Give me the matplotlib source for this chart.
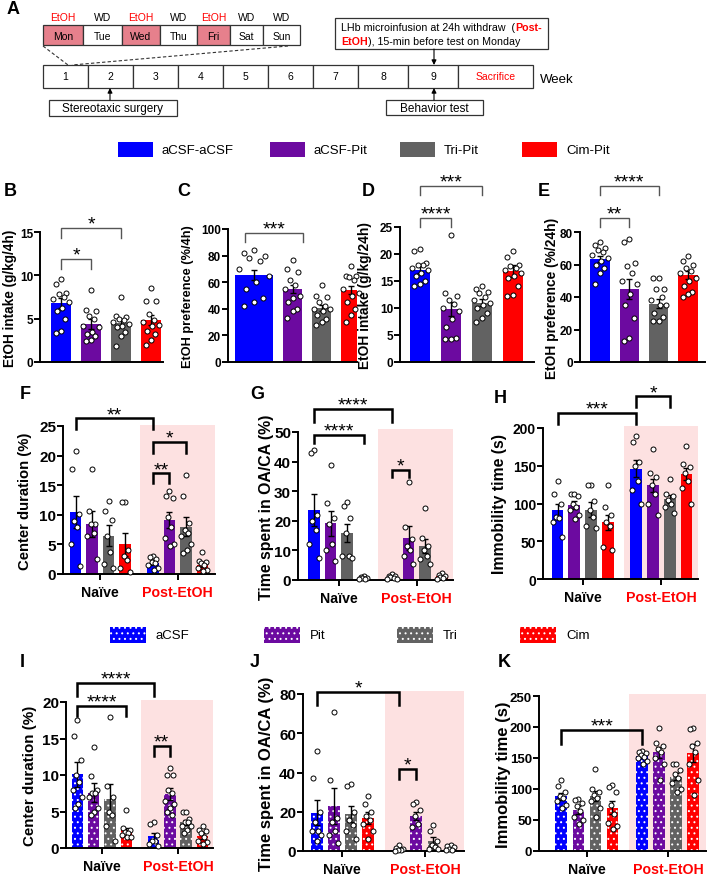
import matplotlib
matplotlib.use("Agg")
import matplotlib.pyplot as plt
from matplotlib.patches import Rectangle
import numpy as np

plt.rcParams['font.family'] = ['Liberation Sans', 'DejaVu Sans']
plt.rcParams['hatch.color'] = 'white'
plt.rcParams['hatch.linewidth'] = 0.7

W, H = 709, 878
fig = plt.figure(figsize=(W / 100, H / 100), dpi=100)

BLUE, PURPLE, GRAY, RED = '#0000ff', '#6c0aa0', '#626262', '#ff0000'
PINK = '#fde1e1'
DAYPINK = '#e6808c'
colors = [BLUE, PURPLE, GRAY, RED]

# ---------------- data ----------------
days = ['Mon', 'Tue', 'Wed', 'Thu', 'Fri', 'Sat', 'Sun']
day_tags = ['EtOH', 'WD', 'EtOH', 'WD', 'EtOH', 'WD', 'WD']
weeks = ['1', '2', '3', '4', '5', '6', '7', '8', '9', 'Sacrifice']
legend1 = ['aCSF-aCSF', 'aCSF-Pit', 'Tri-Pit', 'Cim-Pit']
legend2 = ['aCSF', 'Pit', 'Tri', 'Cim']
group_labels = ['Naïve', 'Post-EtOH']

B_mean = [6.8, 4.4, 4.45, 4.85]
B_sem = [0.6, 0.55, 0.4, 0.6]
B_pts = [[9.6, 9.0, 8.0, 7.8, 7.5, 7.3, 6.9, 6.2, 5.9, 5.0, 3.6, 3.3],
         [8.3, 6.0, 5.9, 5.3, 5.0, 4.2, 4.0, 3.5, 3.2, 3.0, 2.5, 2.4],
         [7.5, 5.3, 5.2, 5.0, 4.8, 4.6, 4.4, 4.2, 4.0, 3.5, 3.0, 1.8],
         [8.5, 7.0, 7.0, 5.5, 4.8, 4.6, 4.3, 4.2, 3.6, 3.2, 2.5, 2.0]]

C_mean = [65.5, 55.0, 40.5, 54.0]
C_sem = [4.0, 3.0, 2.5, 3.0]
C_pts = [[84, 82, 80, 78, 76, 70, 65, 60, 55, 48, 45, 42],
         [77, 70, 68, 62, 58, 55, 50, 48, 45, 40, 38, 33],
         [58, 50, 49, 45, 42, 40, 40, 38, 35, 32, 30, 28],
         [72, 65, 65, 64, 62, 55, 52, 50, 45, 40, 35, 30]]

D_mean = [17.1, 9.8, 11.0, 16.8]
D_sem = [0.6, 1.3, 0.6, 1.1]
D_pts = [[21.0, 20.5, 18.3, 18.0, 18.0, 17.5, 17.0, 16.5, 16.0, 15.0, 14.5, 14.0],
         [23.5, 12.7, 12.2, 11.5, 10.8, 10.0, 9.5, 8.0, 6.5, 4.5, 4.3, 4.2],
         [14.0, 13.5, 13.0, 12.8, 12.0, 11.5, 11.0, 10.5, 10.0, 9.0, 8.2, 7.5],
         [20.5, 19.5, 18.0, 17.8, 17.5, 17.0, 16.5, 16.0, 15.5, 14.0, 12.5, 12.3]]

E_mean = [63.5, 45.0, 36.0, 53.5]
E_sem = [2.0, 6.0, 3.0, 2.5]
E_pts = [[74, 72, 70, 69, 68, 66, 64, 62, 60, 58, 55, 48],
         [76, 74, 61, 59, 55, 50, 48, 42, 35, 27, 15, 13],
         [52, 52, 45, 45, 40, 38, 35, 35, 30, 28, 25, 25],
         [65, 62, 60, 58, 56, 55, 52, 50, 47, 43, 42, 40]]

F_naive_mean = [10.4, 8.5, 6.5, 5.0]
F_naive_sem = [2.7, 2.2, 1.8, 2.0]
F_naive_pts = [[20.7, 17.7, 10.2, 9.0, 8.0, 5.0, 1.3],
               [17.7, 10.7, 8.5, 8.4, 7.0, 6.5, 2.6],
               [12.4, 10.7, 9.2, 6.5, 3.8, 1.7, 1.0],
               [12.2, 12.2, 4.0, 3.0, 2.3, 1.0, 0.3]]
F_post_mean = [1.9, 9.1, 8.0, 1.6]
F_post_sem = [0.4, 1.3, 1.6, 0.4]
F_post_pts = [[3.0, 2.8, 2.5, 2.0, 1.8, 1.5, 1.0, 0.6],
              [14.0, 13.1, 12.9, 9.6, 8.0, 6.0, 5.0, 4.8],
              [16.7, 13.1, 8.6, 7.5, 7.0, 6.4, 5.0, 4.0, 3.6],
              [3.8, 2.2, 2.0, 1.8, 1.5, 1.0, 0.7, 0.5]]

G_naive_mean = [23.7, 19.2, 15.8, 0.8]
G_naive_sem = [5.5, 4.2, 3.0, 0.4]
G_naive_pts = [[44, 43, 22, 20, 17, 12, 7.5],
               [39, 26, 21, 19, 12, 10, 6.5],
               [26.5, 25, 21, 16, 8, 8, 7.5],
               [1.5, 1.0, 0.8, 0.7, 0.5, 0.3]]
G_post_mean = [1.0, 14.2, 11.5, 1.2]
G_post_sem = [0.5, 4.0, 2.3, 0.4]
G_post_pts = [[2.0, 1.5, 1.2, 1.0, 0.8, 0.5, 0.3],
              [33, 18, 14, 11.5, 10, 8, 5.4],
              [24.4, 14.3, 11.5, 10, 8.1, 7, 5.5],
              [2.2, 1.8, 1.5, 1.0, 0.8, 0.5]]

H_naive_mean = [91, 98, 92, 75]
H_naive_sem = [9, 5, 10, 10]
H_naive_pts = [[130, 113, 100, 82, 81, 76, 56],
               [113, 113, 110, 100, 96, 92, 85, 80],
               [125, 125, 103, 92, 82, 70, 68],
               [124, 95, 85, 75, 70, 42, 38]]
H_post_mean = [146, 124, 106, 139]
H_post_sem = [11, 9, 5, 8]
H_post_pts = [[190, 182, 155, 150, 130, 118, 100],
              [172, 140, 135, 124, 112, 100, 85],
              [132, 112, 110, 105, 100, 95, 88],
              [176, 152, 148, 140, 130, 120, 100]]

I_naive_mean = [10.1, 7.6, 6.7, 2.4]
I_naive_sem = [1.7, 1.3, 2.1, 0.4]
I_naive_pts = [[17.6, 15.4, 12.0, 10.0, 9.0, 8.0, 7.0, 6.0, 5.5],
               [13.9, 9.8, 8.0, 7.6, 7.5, 7.0, 5.5, 5.0, 4.5],
               [18.0, 8.5, 7.0, 5.0, 4.5, 3.0, 1.0],
               [5.2, 2.8, 2.5, 2.2, 2.0, 1.8, 1.5, 1.5]]
I_post_mean = [1.6, 7.4, 3.5, 1.7]
I_post_sem = [0.5, 0.8, 0.4, 0.4]
I_post_pts = [[3.5, 3.3, 1.8, 1.0, 1.0, 0.5, 0.3],
              [11.0, 10.0, 10.0, 8.0, 7.5, 6.5, 6.0, 5.5, 5.0, 4.5],
              [5.0, 5.0, 4.0, 3.5, 3.5, 3.0, 3.0, 2.5, 2.0],
              [3.0, 2.5, 2.3, 2.0, 1.5, 1.0, 0.8, 0.5]]

J_naive_mean = [19.5, 23.0, 18.8, 17.0]
J_naive_sem = [6.5, 9.0, 4.0, 3.0]
J_naive_pts = [[51, 37, 20, 15, 10, 10, 8, 5],
               [71, 36, 17, 15, 10, 8, 4],
               [34, 33, 20, 16, 13, 10, 6],
               [28, 24, 20, 18, 16, 14, 10, 6]]
J_post_mean = [1.0, 18.0, 5.0, 1.5]
J_post_sem = [0.5, 2.0, 2.0, 0.5]
J_post_pts = [[3, 1.5, 1, 0.5, 0.5, 0.2],
              [25, 24, 21, 18, 14, 12],
              [13, 10, 5, 3, 2, 1, 1],
              [3, 2.5, 2, 1, 0.5, 0.5]]

K_naive_mean = [88, 66, 88, 70]
K_naive_sem = [6, 6, 8, 10]
K_naive_pts = [[115, 105, 95, 88, 85, 80, 75, 70],
               [84, 83, 78, 72, 65, 55, 50, 43],
               [132, 100, 95, 90, 85, 80, 70, 55],
               [106, 104, 95, 75, 60, 45, 40, 35]]
K_post_mean = [153, 159, 120, 158]
K_post_sem = [3, 9, 6, 14]
K_post_pts = [[162, 160, 158, 155, 152, 150, 145, 140],
              [198, 175, 170, 165, 160, 150, 140, 115],
              [140, 140, 130, 125, 118, 110, 100, 95],
              [198, 196, 175, 170, 160, 140, 115, 90]]


# ---------------- helpers ----------------
def spread(vals, half):
    # fixed side-by-side offsets so the dots do not sit on top of each other
    order = np.argsort(vals)[::-1]
    pattern = np.array([0.0, -0.55, 0.55, -0.25, 0.3, -0.8, 0.8, 0.1, -0.45, 0.45])
    off = np.zeros(len(vals))
    off[order] = pattern[np.arange(len(vals)) % len(pattern)] * half
    return off


def setup_ax(box, ylim, yticks, xlim, tick_fs):
    x0, x1, ytop, ybot = box
    ax = fig.add_axes([x0 / W, 1 - ybot / H, (x1 - x0) / W, (ybot - ytop) / H])
    ax.set_facecolor('none')
    ax.set_xlim(*xlim)
    ax.set_ylim(*ylim)
    ax.spines[['top', 'right']].set_visible(False)
    ax.spines[['left', 'bottom']].set_linewidth(1.4)
    ax.set_yticks(yticks)
    ax.set_yticklabels([str(t) for t in yticks], fontsize=tick_fs, fontweight='bold')
    ax.tick_params(width=1.4, length=4, pad=1)
    return ax


def draw_bars(ax, xs, means, sems, pts, widths, hatch=None):
    widths = np.broadcast_to(widths, (len(xs),))
    for x, wd, m, s, p, c in zip(xs, widths, means, sems, pts, colors):
        if hatch:
            ax.bar(x, m, wd, color=c, edgecolor='white', linewidth=0, hatch=hatch, zorder=2)
        else:
            ax.bar(x, m, wd, color=c, linewidth=0, zorder=2)
        ax.errorbar(x, m, yerr=s, color='black', capsize=2.5, elinewidth=1, capthick=1, zorder=3)
        p = np.array(p, dtype=float)
        ax.scatter(x + spread(p, wd / 2), p, s=13, facecolor='white', edgecolor='black',
                   linewidth=0.7, zorder=4, clip_on=False)


def bracket(ax, x1, x2, y, drop, stars, lw=1.8, color='black'):
    ax.plot([x1, x1, x2, x2], [y - drop, y, y, y - drop], color=color, lw=lw,
            clip_on=False, zorder=5, solid_joinstyle='miter')
    ax.annotate(stars, xy=((x1 + x2) / 2, y), xytext=(0, -0.5), textcoords='offset points',
                ha='center', va='baseline', fontsize=14, annotation_clip=False)


def ylab(ax, box, text, right_px, fs):
    x0, x1 = box[0], box[1]
    ax.set_ylabel(text, fontsize=fs, fontweight='bold')
    ax.yaxis.set_label_coords((right_px - x0) / (x1 - x0), 0.5)


def simple_panel(box, ylim, yticks, xlim, xs, widths, means, sems, pts, label, label_x, label_fs):
    ax = setup_ax(box, ylim, yticks, xlim, 8.5)
    ax.set_xticks([])
    draw_bars(ax, xs, means, sems, pts, widths)
    ylab(ax, box, label, label_x, label_fs)
    return ax


def grouped_panel(box, ylim, yticks, xlim, off, nm, ns, npts, pm, ps, ppts,
                  shade_x, shade_top, label, label_x, label_fs, tick_fs, hatch=None):
    ax = setup_ax(box, ylim, yticks, xlim, tick_fs)
    ax.add_patch(Rectangle((shade_x, 0), xlim[1] - shade_x, shade_top, facecolor=PINK,
                           edgecolor='none', zorder=0, clip_on=False))
    draw_bars(ax, np.arange(4), nm, ns, npts, 0.7, hatch)
    draw_bars(ax, off + np.arange(4), pm, ps, ppts, 0.7, hatch)
    ax.set_xticks([1.5, off + 1.5])
    ax.set_xticklabels(group_labels, fontsize=10.2, fontweight='bold')
    ax.get_xticklabels()[1].set_color(RED)
    ax.tick_params(axis='x', pad=4)
    ylab(ax, box, label, label_x, label_fs)
    return ax


# ---------------- panel A + legends (pixel layer) ----------------
lay = fig.add_axes([0, 0, 1, 1], zorder=-1)
lay.set_xlim(0, W)
lay.set_ylim(H, 0)
lay.axis('off')

letters = {'A': (7, 9), 'B': (4, 191), 'C': (177, 191), 'D': (362, 192), 'E': (538, 192),
           'F': (20, 395), 'G': (250, 395), 'H': (494, 399), 'I': (20, 663), 'J': (250, 663),
           'K': (498, 663)}
for k, (x, y) in letters.items():
    lay.text(x, y, k, fontsize=13, fontweight='bold', va='center', ha='left')

day_edges = [43, 83, 122, 160, 197, 230, 263, 300]
for i, (d, tag) in enumerate(zip(days, day_tags)):
    a, b = day_edges[i], day_edges[i + 1]
    fc = DAYPINK if tag == 'EtOH' else 'white'
    lay.add_patch(Rectangle((a, 26), b - a, 20, facecolor=fc, edgecolor='#333333', lw=0.9))
    lay.text((a + b) / 2, 36.5, d, ha='center', va='center', fontsize=7.5)
    lay.text((a + b) / 2, 18, tag, ha='center', va='center', fontsize=7.5,
             color=RED if tag == 'EtOH' else 'black')

lay.plot([43, 68], [47, 66], ls=(0, (3, 2)), color='#333333', lw=0.8)
lay.plot([288, 72], [47, 66], ls=(0, (3, 2)), color='#333333', lw=0.8)

week_edges = [43, 88, 133, 178, 223, 268, 313, 358, 408, 458, 533]
for i, wk in enumerate(weeks):
    a, b = week_edges[i], week_edges[i + 1]
    lay.add_patch(Rectangle((a, 66), b - a, 23, facecolor='white', edgecolor='#333333', lw=0.9))
    lay.text((a + b) / 2, 77.5, wk, ha='center', va='center', fontsize=7.5,
             color=RED if wk == 'Sacrifice' else 'black')
lay.text(540, 80, 'Week', ha='left', va='center', fontsize=9.5)

arrow = dict(arrowstyle='-|>', color='black', lw=0.8, mutation_scale=7, shrinkA=0, shrinkB=0)
lay.annotate('', xy=(110, 89), xytext=(110, 101), arrowprops=arrow)
lay.annotate('', xy=(434, 89), xytext=(434, 101), arrowprops=arrow)
lay.annotate('', xy=(434, 66), xytext=(434, 50), arrowprops=arrow)

lay.add_patch(Rectangle((49, 101), 128, 16, facecolor='white', edgecolor='#333333', lw=0.9))
lay.text(113, 109, 'Stereotaxic surgery', ha='center', va='center', fontsize=8.5)
lay.add_patch(Rectangle((386, 101), 97, 15, facecolor='white', edgecolor='#333333', lw=0.9))
lay.text(434.5, 108.5, 'Behavior test', ha='center', va='center', fontsize=8.5)
lay.add_patch(Rectangle((335, 19), 213, 31, facecolor='white', edgecolor='#333333', lw=0.9))

renderer = fig.canvas.get_renderer()


def chain(x, y, parts, fs=7.7):
    for txt, col, wt in parts:
        t = lay.text(x, y, txt, color=col, fontweight=wt, fontsize=fs, ha='left', va='center')
        x = t.get_window_extent(renderer).x1


chain(341, 28, [('LHb microinfusion at 24h withdraw  (', 'black', 'normal'),
                ('Post-', RED, 'bold')])
chain(341, 42, [('EtOH', RED, 'bold'),
                ('), 15-min before test on Monday', 'black', 'normal')])

leg1_x = [118, 270, 400, 522]
for x, c, t in zip(leg1_x, colors, legend1):
    lay.add_patch(Rectangle((x, 143), 35, 15, facecolor=c, edgecolor='none'))
    lay.text(x + 44, 150.5, t, ha='left', va='center', fontsize=9.5)

leg2_x = [110, 264, 397, 520]
for x, c, t in zip(leg2_x, colors, legend2):
    lay.add_patch(Rectangle((x, 628), 36, 16, facecolor=c, edgecolor='white', lw=0, hatch='...'))
    lay.text(x + 46, 636, t, ha='left', va='center', fontsize=9.5)

# ---------------- B-E: intake / preference ----------------
boxB = (40, 163, 233, 363)
axB = simple_panel(boxB, (0, 15), [0, 5, 10, 15], (-0.7, 3.4), np.arange(4), 0.66,
                   B_mean, B_sem, B_pts, 'EtOH intake (g/kg/4h)', 17, 9.8)
bracket(axB, 0, 2, 15.45, 1.15, '*', lw=1, color='#555555')
bracket(axB, 0, 1, 11.9, 1.15, '*', lw=1, color='#555555')

# in the source panel C the first bar is drawn wider and the bracket sits left of the bars
boxC = (228, 357, 230, 363)
axC = simple_panel(boxC, (0, 100), [0, 20, 40, 60, 80, 100], (-1.2, 3.2),
                   [-0.31, 1, 2, 3], [1.3, 0.66, 0.66, 0.66], C_mean, C_sem, C_pts,
                   'EtOH preference (%/4h)', 194, 9.2)
bracket(axC, -0.62, 1.36, 97, 7, '***', lw=1, color='#555555')

boxD = (400, 534, 228, 363)
axD = simple_panel(boxD, (0, 25), [0, 5, 10, 15, 20, 25], (-0.65, 3.68), np.arange(4), 0.66,
                   D_mean, D_sem, D_pts, 'EtOH intake (g/kg/24h)', 372, 9.9)
bracket(axD, 0, 2, 32.6, 1.67, '***', lw=1, color='#555555')
bracket(axD, 0, 1, 26.7, 1.67, '****', lw=1, color='#555555')

boxE = (580, 705, 233, 363)
axE = simple_panel(boxE, (0, 80), [0, 20, 40, 60, 80], (-0.68, 3.58), np.arange(4), 0.66,
                   E_mean, E_sem, E_pts, 'EtOH preference (%/24h)', 559, 9.9)
bracket(axE, 0, 2, 108.3, 5.5, '****', lw=1, color='#555555')
bracket(axE, 0, 1, 88.6, 5.5, '**', lw=1, color='#555555')

# ---------------- F-H ----------------
axF = grouped_panel((63, 215, 427, 575), (0, 25), [0, 5, 10, 15, 20, 25], (-0.76, 8.46), 4.7,
                    F_naive_mean, F_naive_sem, F_naive_pts, F_post_mean, F_post_sem, F_post_pts,
                    3.9, 25.2, 'Center duration (%)', 32, 10.7, 11)
bracket(axF, 0, 4.7, 26.3, 1.8, '**')
bracket(axF, 4.7, 6.7, 22.3, 1.8, '*')
bracket(axF, 4.7, 5.7, 17.0, 1.7, '**')

axG = grouped_panel((298, 453, 433, 581), (0, 50), [0, 10, 20, 30, 40, 50], (-0.96, 8.38), 4.7,
                    G_naive_mean, G_naive_sem, G_naive_pts, G_post_mean, G_post_sem, G_post_pts,
                    3.86, 51, 'Time spent in OA/CA (%)', 274, 11.4, 11)
bracket(axG, 0, 4.7, 57.8, 4.4, '****')
bracket(axG, 0, 3, 49, 2.7, '****')
bracket(axG, 4.7, 5.7, 37.2, 2.4, '*')

axH = grouped_panel((543, 698, 429, 580), (0, 200), [0, 50, 100, 150, 200], (-0.87, 8.39), 4.7,
                    H_naive_mean, H_naive_sem, H_naive_pts, H_post_mean, H_post_sem, H_post_pts,
                    3.95, 202.6, 'Immobility time (s)', 507, 11.4, 10)
bracket(axH, 0, 4.7, 220, 14.6, '***')
bracket(axH, 4.7, 6.7, 242, 14.6, '*')

# ---------------- I-K ----------------
axI = grouped_panel((66, 213, 703, 849), (0, 20), [0, 5, 10, 15, 20], (-0.7, 8.3), 4.66,
                    I_naive_mean, I_naive_sem, I_naive_pts, I_post_mean, I_post_sem, I_post_pts,
                    3.9, 20.3, 'Center duration (%)', 37, 10.9, 11, hatch='...')
bracket(axI, 0, 4.66, 22.6, 1.8, '****')
bracket(axI, 0, 3, 19.45, 1.4, '****')
bracket(axI, 4.66, 5.66, 14.0, 1.4, '**')

axJ = grouped_panel((303, 464, 695, 852), (0, 80), [0, 20, 40, 60, 80], (-0.8, 8.64), 4.85,
                    J_naive_mean, J_naive_sem, J_naive_pts, J_post_mean, J_post_sem, J_post_pts,
                    4.0, 81.6, 'Time spent in OA/CA (%)', 274, 12, 11, hatch='...')
bracket(axJ, 0, 4.85, 81, 6.6, '*')
bracket(axJ, 4.85, 5.85, 41.8, 5.1, '*')

axK = grouped_panel((539, 706, 697, 852), (0, 250), [0, 50, 100, 150, 200, 250], (-1.32, 8.5), 4.76,
                    K_naive_mean, K_naive_sem, K_naive_pts, K_post_mean, K_post_sem, K_post_pts,
                    3.97, 253, 'Immobility time (s)', 511, 12, 9.5, hatch='...')
bracket(axK, 0, 4.76, 195, 22.6, '***')

fig.savefig('out.png', dpi=100)
